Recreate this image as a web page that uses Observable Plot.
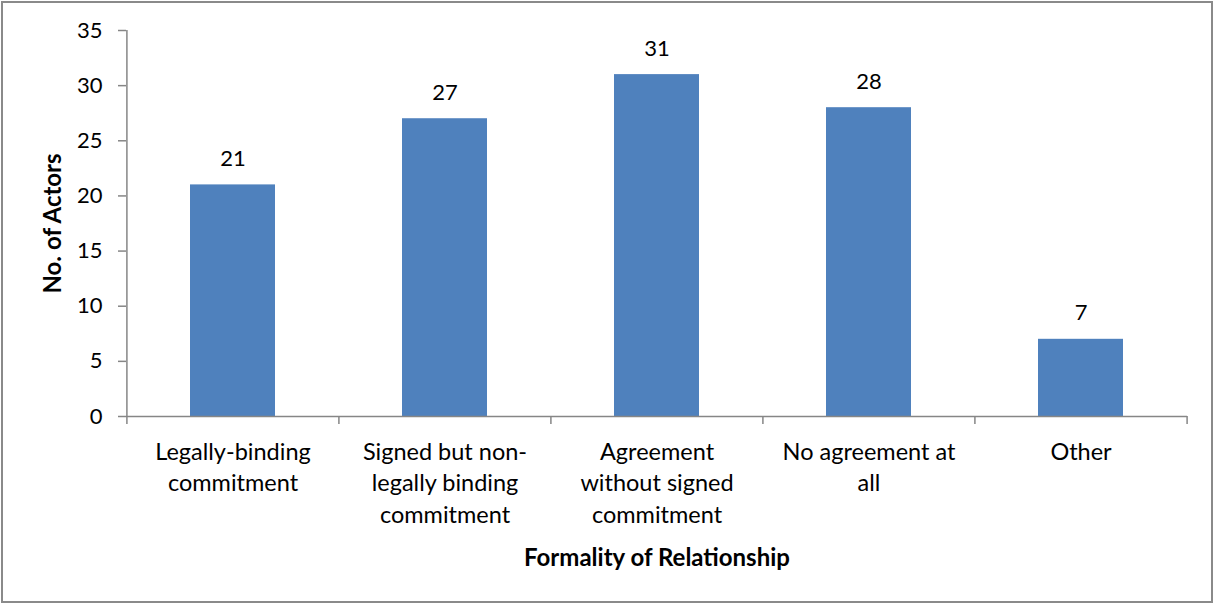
<!DOCTYPE html>
<html>
<head>
<meta charset="utf-8">
<script src="https://cdn.jsdelivr.net/npm/d3@7"></script>
<script src="https://cdn.jsdelivr.net/npm/@observablehq/plot@0.6"></script>
<style>
  html, body { margin: 0; padding: 0; background: #fff; }
  #chart { position: relative; width: 1216px; height: 606px; }
  #chart svg { position: absolute; left: 0; top: 0; }
  #frame {
    position: absolute; left: 1px; top: 1px; width: 1212px; height: 602px;
    border: 2px solid #8a8a8a; box-sizing: border-box; pointer-events: none;
  }
</style>
</head>
<body>
<div id="chart"><div id="frame"></div></div>
<script>
// Number of actors by formality of relationship
const categories = [
  "Legally-binding commitment",
  "Signed but non-legally binding commitment",
  "Agreement without signed commitment",
  "No agreement at all",
  "Other"
];
const tickLabels = [
  "Legally-binding\ncommitment",
  "Signed but non-\nlegally binding\ncommitment",
  "Agreement\nwithout signed\ncommitment",
  "No agreement at\nall",
  "Other"
];
const actors = [21, 27, 31, 28, 7];
const yTicks = [0, 5, 10, 15, 20, 25, 30, 35];

const data = categories.map((c, i) => ({category: c, value: actors[i]}));
const labelOf = new Map(categories.map((c, i) => [c, tickLabels[i]]));

const W = 1216, H = 606;
const mL = 126, mR = 29, mT = 30, mB = 190;
const halfStep = (W - mL - mR) / categories.length / 2;

const font = "Lato, 'Open Sans', sans-serif";
const axisGray = "#868686";
const last = categories[categories.length - 1];

const chart = Plot.plot({
  width: W,
  height: H,
  marginLeft: mL,
  marginRight: mR,
  marginTop: mT,
  marginBottom: mB,
  style: {fontFamily: font, fontSize: "22px", color: "#000", background: "transparent"},
  x: {domain: categories, paddingInner: 0.6, paddingOuter: 0.3, label: null},
  y: {domain: [0, 35], label: null},
  marks: [
    // y axis ticks and labels
    Plot.axisY({
      ticks: yTicks, tickSize: 8, tickPadding: 16, stroke: axisGray, strokeWidth: 1.5,
      fill: "#000", fontSize: 22, label: null
    }),
    // x tick labels (wrapped category names)
    Plot.axisX({
      tickSize: 0, tickPadding: 21, fontSize: 23.5, fill: "#000", lineHeight: 1.34,
      tickFormat: d => labelOf.get(d), label: null
    }),
    // bars
    Plot.barY(data, {x: "category", y: "value", fill: "#4F81BD"}),
    // vertical axis line on the left edge of the first band
    Plot.ruleX([categories[0]], {x: d => d, dx: -halfStep, y1: 0, y2: 35, stroke: axisGray, strokeWidth: 1.5}),
    // baseline
    Plot.ruleY([0], {stroke: axisGray, strokeWidth: 1.5}),
    // tick marks on the category boundaries, hanging below the baseline
    Plot.ruleX(categories, {x: d => d, dx: -halfStep, y1: 0, y2: 0, insetBottom: -8, stroke: axisGray, strokeWidth: 1.5}),
    Plot.ruleX([last], {x: d => d, dx: halfStep, y1: 0, y2: 0, insetBottom: -8, stroke: axisGray, strokeWidth: 1.5}),
    // value labels
    Plot.text(data, {x: "category", y: "value", text: d => String(d.value), dy: -19,
      lineAnchor: "bottom", fontSize: 22, fill: "#000"}),
    // axis titles
    Plot.text(["No. of Actors"], {frameAnchor: "left", textAnchor: "middle", dx: -73, rotate: -90,
      fontSize: 24, fontWeight: "bold", fill: "#000"}),
    Plot.text(["Formality of Relationship"], {frameAnchor: "bottom", dy: 149, fontSize: 24,
      fontWeight: "bold", fill: "#000"})
  ]
});

document.getElementById("chart").prepend(chart);
</script>
</body>
</html>
